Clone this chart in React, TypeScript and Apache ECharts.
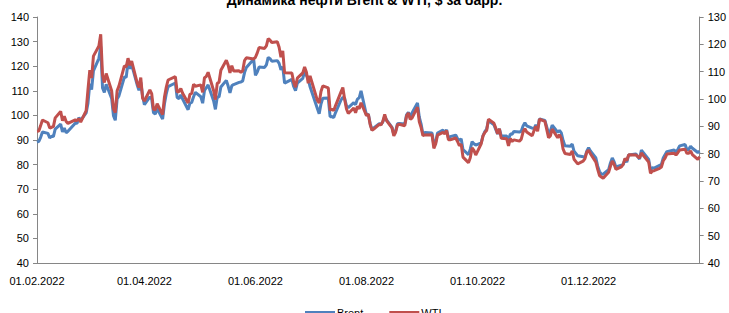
import React, { useEffect, useRef } from "react";
import * as echarts from "echarts";

const TITLE = "Динамика нефти Brent & WTI, $ за барр.";

// Trading days (common to both series)
const dates: string[] = [
  // Feb 2022
  "2022-02-01","2022-02-02","2022-02-03","2022-02-04","2022-02-07","2022-02-08","2022-02-09","2022-02-10","2022-02-11","2022-02-14",
  "2022-02-15","2022-02-16","2022-02-17","2022-02-18","2022-02-22","2022-02-23","2022-02-24","2022-02-25","2022-02-28",
  // Mar
  "2022-03-01","2022-03-02","2022-03-03","2022-03-04","2022-03-07","2022-03-08","2022-03-09","2022-03-10","2022-03-11","2022-03-14",
  "2022-03-15","2022-03-16","2022-03-17","2022-03-18","2022-03-21","2022-03-22","2022-03-23","2022-03-24","2022-03-25","2022-03-28",
  "2022-03-29","2022-03-30","2022-03-31",
  // Apr
  "2022-04-01","2022-04-04","2022-04-05","2022-04-06","2022-04-07","2022-04-08","2022-04-11","2022-04-12","2022-04-13","2022-04-14",
  "2022-04-18","2022-04-19","2022-04-20","2022-04-21","2022-04-22","2022-04-25","2022-04-26","2022-04-27","2022-04-28","2022-04-29",
  // May
  "2022-05-02","2022-05-03","2022-05-04","2022-05-05","2022-05-06","2022-05-09","2022-05-10","2022-05-11","2022-05-12","2022-05-13",
  "2022-05-16","2022-05-17","2022-05-18","2022-05-19","2022-05-20","2022-05-23","2022-05-24","2022-05-25","2022-05-26","2022-05-27",
  "2022-05-31",
  // Jun
  "2022-06-01","2022-06-02","2022-06-03","2022-06-06","2022-06-07","2022-06-08","2022-06-09","2022-06-10","2022-06-13","2022-06-14",
  "2022-06-15","2022-06-16","2022-06-17","2022-06-21","2022-06-22","2022-06-23","2022-06-24","2022-06-27","2022-06-28","2022-06-29",
  "2022-06-30",
  // Jul
  "2022-07-01","2022-07-05","2022-07-06","2022-07-07","2022-07-08","2022-07-11","2022-07-12","2022-07-13","2022-07-14","2022-07-15",
  "2022-07-18","2022-07-19","2022-07-20","2022-07-21","2022-07-22","2022-07-25","2022-07-26","2022-07-27","2022-07-28","2022-07-29",
  // Aug
  "2022-08-01","2022-08-02","2022-08-03","2022-08-04","2022-08-05","2022-08-08","2022-08-09","2022-08-10","2022-08-11","2022-08-12",
  "2022-08-15","2022-08-16","2022-08-17","2022-08-18","2022-08-19","2022-08-22","2022-08-23","2022-08-24","2022-08-25","2022-08-26",
  "2022-08-29","2022-08-30","2022-08-31",
  // Sep
  "2022-09-01","2022-09-02","2022-09-06","2022-09-07","2022-09-08","2022-09-09","2022-09-12","2022-09-13","2022-09-14","2022-09-15",
  "2022-09-16","2022-09-19","2022-09-20","2022-09-21","2022-09-22","2022-09-23","2022-09-26","2022-09-27","2022-09-28","2022-09-29",
  "2022-09-30",
  // Oct
  "2022-10-03","2022-10-04","2022-10-05","2022-10-06","2022-10-07","2022-10-10","2022-10-11","2022-10-12","2022-10-13","2022-10-14",
  "2022-10-17","2022-10-18","2022-10-19","2022-10-20","2022-10-21","2022-10-24","2022-10-25","2022-10-26","2022-10-27","2022-10-28",
  "2022-10-31",
  // Nov
  "2022-11-01","2022-11-02","2022-11-03","2022-11-04","2022-11-07","2022-11-08","2022-11-09","2022-11-10","2022-11-11","2022-11-14",
  "2022-11-15","2022-11-16","2022-11-17","2022-11-18","2022-11-21","2022-11-22","2022-11-23","2022-11-25","2022-11-28","2022-11-29",
  "2022-11-30",
  // Dec
  "2022-12-01","2022-12-02","2022-12-05","2022-12-06","2022-12-07","2022-12-08","2022-12-09","2022-12-12","2022-12-13","2022-12-14",
  "2022-12-15","2022-12-16","2022-12-19","2022-12-20","2022-12-21","2022-12-22","2022-12-23","2022-12-27","2022-12-28","2022-12-29",
  "2022-12-30",
  // Jan 2023
  "2023-01-03","2023-01-04","2023-01-05","2023-01-06","2023-01-09","2023-01-10","2023-01-11","2023-01-12","2023-01-13","2023-01-17",
  "2023-01-18","2023-01-19","2023-01-20","2023-01-23","2023-01-24","2023-01-25","2023-01-26","2023-01-27","2023-01-30","2023-01-31",
];

const brent: number[] = [
  // Feb
  89.16,89.47,91.11,93.27,92.69,90.78,91.55,91.41,94.44,96.48,
  93.28,94.81,92.97,93.54,96.84,96.84,99.08,97.93,100.99,
  // Mar
  104.97,112.93,110.46,118.11,123.21,127.98,111.14,109.33,112.67,106.9,
  99.91,98.02,106.64,107.93,115.62,115.48,121.6,119.03,120.65,112.48,
  110.23,113.45,107.91,
  // Apr
  104.39,107.53,106.64,101.07,100.58,102.78,98.48,104.64,108.78,111.7,
  113.16,107.25,106.8,108.33,106.65,102.32,104.99,105.32,107.59,109.34,
  // May
  107.58,104.97,110.14,111.26,112.39,105.94,102.46,107.51,107.45,111.55,
  114.24,111.93,109.11,112.04,112.55,113.42,113.56,114.03,117.4,119.43,
  122.84,
  // Jun
  116.29,117.61,119.72,119.51,120.57,123.58,123.07,122.01,122.27,121.17,
  118.51,119.81,113.12,114.65,111.74,110.05,113.12,115.09,117.98,116.26,
  114.81,
  // Jul
  111.63,102.77,100.69,104.65,107.02,107.1,99.49,99.57,99.1,101.16,
  106.27,107.35,106.92,103.86,103.2,105.15,104.4,106.62,107.14,110.01,
  // Aug
  100.03,100.54,96.78,94.12,94.92,96.65,96.31,97.4,99.6,98.15,
  95.1,92.34,93.65,96.59,96.72,96.48,100.22,101.22,99.34,100.99,
  105.09,99.31,96.49,
  // Sep
  92.36,93.02,92.83,88.0,89.15,92.84,94.0,93.17,94.1,90.84,
  91.35,92.0,90.62,89.83,90.46,86.15,84.06,86.27,89.32,88.49,
  87.96,
  // Oct
  88.86,91.8,93.37,94.42,97.92,96.19,94.29,92.45,94.57,91.63,
  91.62,90.03,92.41,92.38,93.5,93.26,93.52,95.69,96.96,95.77,
  94.83,
  // Nov
  94.65,96.16,94.67,98.57,97.92,95.36,92.65,93.67,95.99,93.14,
  93.86,92.86,89.78,87.62,87.45,88.36,85.41,83.63,83.19,83.03,
  85.43,
  // Dec
  86.88,85.57,82.68,79.35,77.17,76.15,76.1,77.99,80.68,82.7,
  81.21,79.04,79.8,79.99,82.2,80.98,83.92,84.33,83.26,82.26,
  85.91,
  // Jan 2023
  82.1,77.84,78.69,78.57,79.65,80.1,82.67,84.03,85.28,85.92,
  84.98,86.16,87.63,88.19,86.13,86.12,87.47,86.66,84.9,85.46,
];

const wti: number[] = [
  // Feb
  88.2,88.26,90.27,92.31,91.32,89.36,89.66,89.88,93.1,95.46,
  92.07,93.66,91.76,91.07,92.35,92.1,92.81,91.59,95.72,
  // Mar
  103.41,110.6,107.67,115.68,119.4,123.7,108.7,106.02,109.33,103.01,
  96.44,95.04,102.98,104.7,112.12,111.76,114.93,112.34,113.9,105.96,
  104.24,107.82,100.28,
  // Apr
  99.27,103.28,101.96,96.23,96.03,98.26,94.29,100.6,104.25,106.95,
  108.21,102.56,102.75,103.79,102.07,98.54,101.7,102.02,105.36,104.69,
  // May
  105.17,102.41,107.81,108.26,109.77,103.09,99.76,105.71,106.13,110.49,
  114.2,112.4,109.59,112.21,110.28,110.29,109.77,110.33,114.09,115.07,
  114.67,
  // Jun
  115.26,116.87,118.87,118.5,119.41,122.11,121.51,120.67,120.93,118.93,
  115.31,117.59,109.56,109.52,106.19,104.27,107.62,109.57,111.76,109.78,
  105.76,
  // Jul
  108.43,99.5,98.53,102.73,104.79,104.09,95.84,96.3,95.78,97.59,
  102.6,104.22,99.88,96.35,94.7,96.7,94.98,97.26,96.42,98.62,
  // Aug
  93.89,94.42,90.66,88.54,89.01,90.76,90.5,91.93,94.34,92.09,
  89.41,86.53,87.85,90.5,90.77,90.23,93.74,94.89,92.52,93.06,
  97.01,91.64,89.55,
  // Sep
  86.61,86.87,86.88,81.94,83.54,86.79,87.78,87.31,88.48,85.1,
  85.11,85.73,84.45,82.94,83.49,78.74,76.71,78.5,82.15,81.23,
  79.49,
  // Oct
  83.63,86.52,87.76,88.45,92.64,91.13,89.35,87.27,89.11,85.61,
  85.46,82.82,85.55,84.51,85.05,84.58,85.32,87.91,89.08,87.9,
  86.53,
  // Nov
  88.37,90.0,88.17,92.61,91.79,88.91,85.83,86.47,88.96,85.87,
  86.92,85.59,81.64,80.08,79.73,80.95,77.94,76.28,77.24,78.2,
  80.55,
  // Dec
  81.22,79.98,76.93,74.25,72.01,71.46,71.02,73.17,75.39,77.28,
  76.11,74.29,75.19,76.09,78.29,77.49,79.56,79.53,78.96,78.4,
  80.26,
  // Jan 2023
  76.93,72.84,73.67,73.77,74.63,75.12,77.41,78.39,79.86,80.18,
  79.48,80.33,81.31,81.62,80.13,80.15,81.01,79.68,77.9,78.87,
];

const xLabelDates = ["2022-02-01", "2022-04-01", "2022-06-01", "2022-08-01", "2022-10-01", "2022-12-01"];
const xStart = "2022-02-01";
const xEnd = "2023-01-31";

const DAY = 86400000;
const parse = (s: string) => {
  const [y, m, d] = s.split("-").map(Number);
  return Date.UTC(y, m - 1, d);
};
const BASE = parse(xStart);
const toDay = (s: string) => Math.round((parse(s) - BASE) / DAY);
const pad = (n: number) => (n < 10 ? "0" + n : "" + n);
const fmtDay = (day: number) => {
  const dt = new Date(BASE + day * DAY);
  return pad(dt.getUTCDate()) + "." + pad(dt.getUTCMonth() + 1) + "." + dt.getUTCFullYear();
};

const FONT = "Liberation Sans";
const AXIS_COLOR = "#868686";
const LABEL_COLOR = "#000000";

export default function App() {
  const ref = useRef<HTMLDivElement>(null);
  useEffect(() => {
    if (!ref.current) return;
    const chart = echarts.init(ref.current, undefined, { renderer: "svg" });
    const brentData = dates.map((d, i) => [toDay(d), brent[i]]);
    const wtiData = dates.map((d, i) => [toDay(d), wti[i]]);
    chart.setOption({
      animation: false,
      backgroundColor: "#ffffff",
      title: {
        text: TITLE,
        left: "center",
        top: -12,
        textStyle: { fontFamily: FONT, fontSize: 14, fontWeight: "bold", color: "#000" },
      },
      legend: {
        top: 302,
        left: 300,
        itemGap: 26,
        itemWidth: 30,
        itemHeight: 3,
        icon: "rect",
        textStyle: { fontFamily: FONT, fontSize: 11, color: LABEL_COLOR, padding: [0, 0, 0, -3] },
        data: ["Brent", "WTI"],
      },
      grid: { left: 37, right: 27, top: 17, bottom: 50, containLabel: false },
      xAxis: {
        type: "value",
        min: 0,
        max: toDay(xEnd),
        splitLine: { show: false },
        axisLine: { show: true, lineStyle: { color: AXIS_COLOR, width: 1 } },
        axisTick: { show: false },
        axisLabel: {
          customValues: xLabelDates.map(toDay),
          formatter: (v: number) => fmtDay(v),
          fontFamily: FONT,
          fontSize: 11,
          color: LABEL_COLOR,
          margin: 12,
          showMinLabel: true,
        },
      },
      yAxis: [
        {
          type: "value",
          min: 40,
          max: 140,
          interval: 10,
          position: "left",
          splitLine: { show: false },
          axisLine: { show: true, lineStyle: { color: AXIS_COLOR, width: 1 } },
          axisTick: { show: true, inside: false, length: 4, lineStyle: { color: AXIS_COLOR } },
          axisLabel: { fontFamily: FONT, fontSize: 11, color: LABEL_COLOR, margin: 8 },
        },
        {
          type: "value",
          min: 40,
          max: 130,
          interval: 10,
          position: "right",
          splitLine: { show: false },
          axisLine: { show: true, lineStyle: { color: AXIS_COLOR, width: 1 } },
          axisTick: { show: true, inside: false, length: 4, lineStyle: { color: AXIS_COLOR } },
          axisLabel: { fontFamily: FONT, fontSize: 11, color: LABEL_COLOR, margin: 8 },
        },
      ],
      series: [
        {
          name: "Brent",
          type: "line",
          yAxisIndex: 0,
          data: brentData,
          showSymbol: false,
          symbol: "none",
          lineStyle: { color: "#4F81BD", width: 3 },
          itemStyle: { color: "#4F81BD" },
          z: 2,
        },
        {
          name: "WTI",
          type: "line",
          yAxisIndex: 1,
          data: wtiData,
          showSymbol: false,
          symbol: "none",
          lineStyle: { color: "#C0504D", width: 3 },
          itemStyle: { color: "#C0504D" },
          z: 3,
        },
      ],
    });
    return () => chart.dispose();
  }, []);
  return (
    <div
      ref={ref}
      style={{ position: "fixed", left: 0, top: 0, width: 729, height: 313, background: "#fff" }}
    />
  );
}
